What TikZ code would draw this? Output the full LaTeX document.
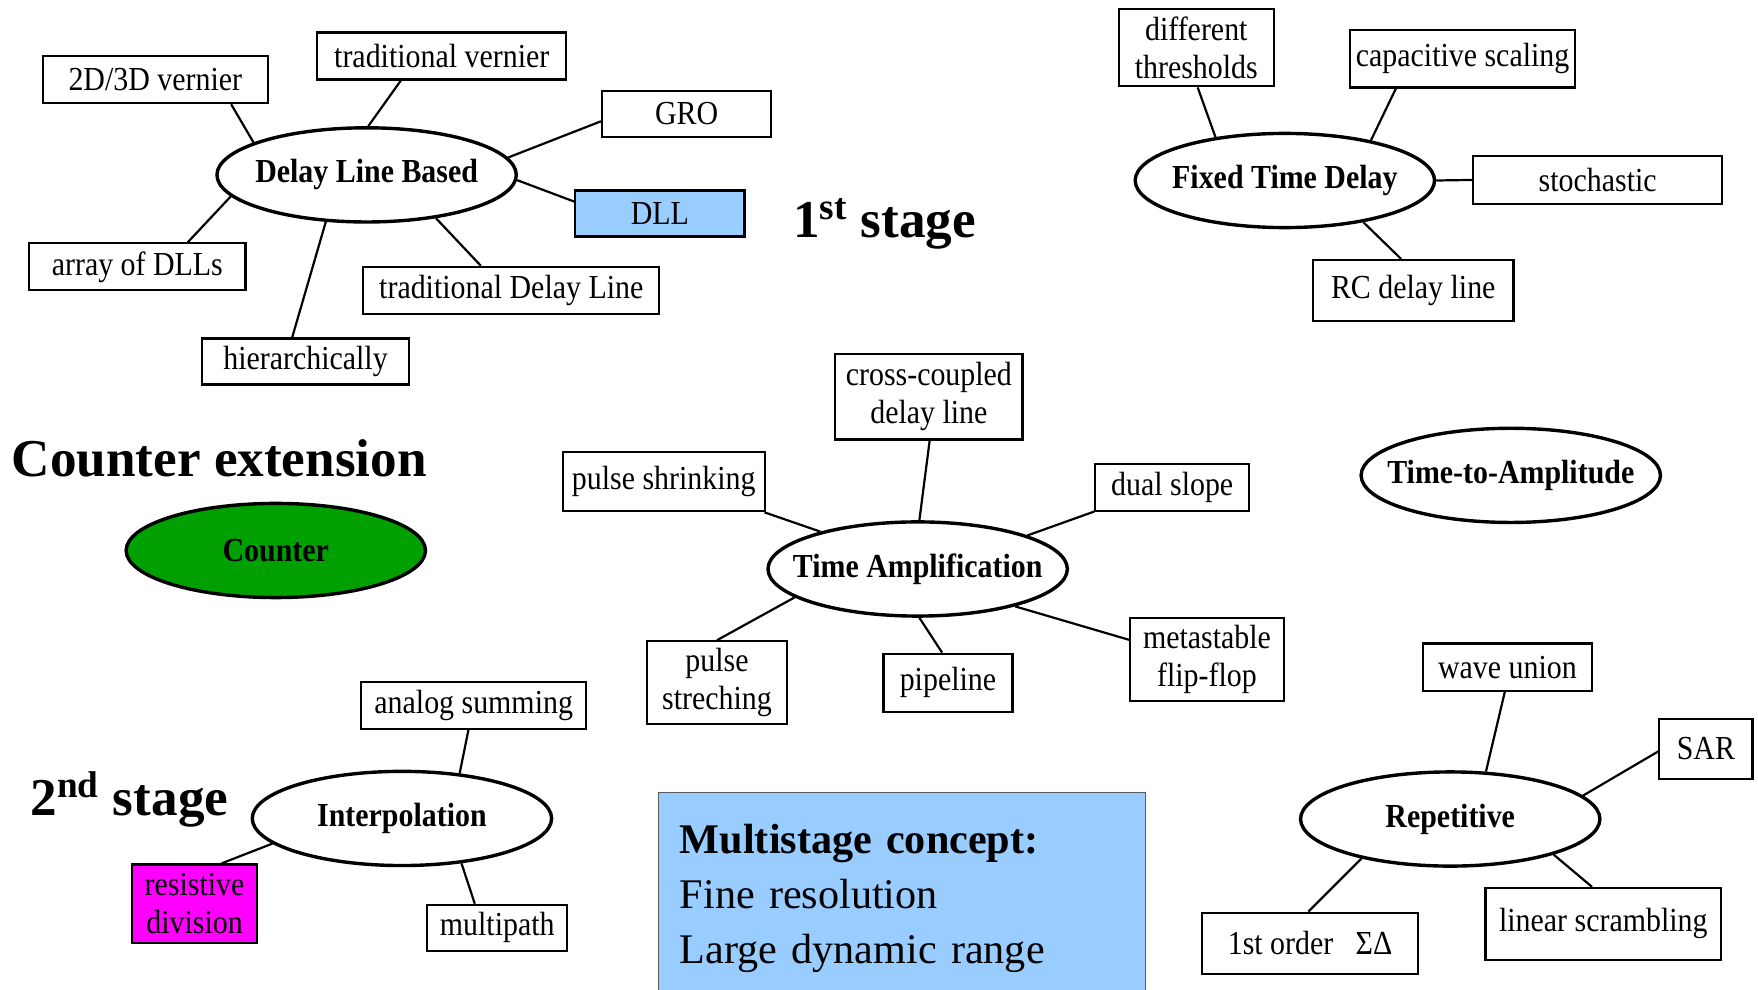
\documentclass[tikz,border=0pt]{standalone}
\usepackage{fontspec}
\setmainfont{Liberation Serif}
\newfontfamily\narrowfont{Liberation Serif}[FakeStretch=0.89]
\usetikzlibrary{shapes.geometric}
\definecolor{lightblue}{RGB}{153,204,255}
\definecolor{countergreen}{RGB}{0,160,0}
\definecolor{purplepink}{RGB}{255,0,255}
\newcommand\px{0.5606pt}
\newcommand\ctext[1]{\makebox[0pt]{#1}}

\begin{document}
\begin{tikzpicture}[x=\px, y=-\px,
    hub/.style={draw, ellipse, line width=1.7pt, inner sep=0pt,
        minimum width=267*\px, minimum height=84*\px,
        font=\narrowfont\fontsize{16.8}{19}\selectfont\bfseries},
    leaf/.style 2 args={draw, rectangle, line width=1.1pt, inner sep=0pt, align=center,
        minimum width=#1*\px, minimum height=#2*\px,
        font=\narrowfont\fontsize{16.8}{19}\selectfont},
    link/.style={line width=1.1pt},
    title/.style={anchor=base west, inner sep=0pt, font=\fontsize{26.6}{30}\selectfont\bfseries}]
    \useasboundingbox (0,0) rectangle (1568,883);

    % Nodes
    \node [hub] (dlb) at (327,156) {\ctext{Delay Line Based}};
    \node [hub] (ftd) at (1146,161) {\ctext{Fixed Time Delay}};
    \node [hub, fill=countergreen] (counter) at (246,491) {\ctext{Counter}};
    \node [hub] (tamp) at (818.5,507.5) {\ctext{Time Amplification}};
    \node [hub] (tta) at (1347.5,424) {\ctext{Time-to-Amplitude}};
    \node [hub] (interp) at (358.5,730) {\ctext{Interpolation}};
    \node [hub] (rep) at (1293.5,730.5) {\ctext{Repetitive}};

    \node [leaf={201}{42}] (vernier2d) at (138.5,71) {2D/3D vernier};
    \node [leaf={222}{42}] (tradvernier) at (394,50) {traditional vernier};
    \node [leaf={151}{41}] (gro) at (612.5,101.5) {GRO};
    \node [leaf={151}{41}, fill=lightblue] (dll) at (588.5,190.5) {DLL};
    \node [leaf={193}{42}] (arraydll) at (122.5,238) {array of DLLs};
    \node [leaf={264}{42}] (tradline) at (456,259) {traditional Delay Line};
    \node [leaf={185}{41}] (hier) at (272.5,322.5) {hierarchically};

    \node [leaf={138}{69}] (thresh) at (1067,42.5) {different\\thresholds};
    \node [leaf={201}{51}] (capscal) at (1304.5,52.5) {capacitive scaling};
    \node [leaf={222}{43}] (stoch) at (1425,160.5) {stochastic};
    \node [leaf={179}{54}] (rcline) at (1260.5,259) {RC delay line};

    \node [leaf={167}{76}] (crosscoupled) at (828.5,354) {cross-coupled\\delay line};
    \node [leaf={180}{53}] (shrink) at (592,429.5) {pulse shrinking};
    \node [leaf={137}{42}] (dualslope) at (1045.5,435) {dual slope};
    \node [leaf={125}{74}] (stretch) at (639.5,609) {pulse\\streching};
    \node [leaf={115}{52}] (pipeline) at (845.5,609) {pipeline};
    \node [leaf={137}{74}] (metaflop) at (1076.5,588) {metastable\\flip-flop};

    \node [leaf={201}{42}] (analogsum) at (422.5,629) {analog summing};
    \node [leaf={111}{70}, fill=purplepink] (resdiv) at (173.5,806) {resistive\\division};
    \node [leaf={125}{41}] (multipath) at (443.5,827.5) {multipath};

    \node [leaf={151}{42}] (waveunion) at (1344.5,595) {wave union};
    \node [leaf={83}{54}] (sar) at (1521.5,668) {SAR};
    \node [leaf={210}{64}] (linscramble) at (1430,824) {linear scrambling};
    \node [leaf={193}{55}] (sigmadelta) at (1168.5,841.5) {1st order~~~ΣΔ};

    \node [title] (firststage) at (707,212) {1\textsuperscript{st} stage};
    \node [title] (counterext) at (10,425) {Counter extension};
    \node [title] (secondstage) at (27,727) {2\textsuperscript{nd} stage};

    \node [anchor=north west, fill=lightblue, draw=gray!70!black, line width=0.5pt,
        inner xsep=19*\px, inner ysep=29*\px, align=left, text width=396*\px,
        font=\fontsize{21.1}{27.5}\selectfont] (concept) at (587,706)
        {\textbf{Multistage concept:}\\Fine resolution\\Large dynamic range};

    % Connections
    \draw [link] (vernier2d.-18.3) -- (dlb.164.5);
    \draw [link] (tradvernier.-149.7) -- (dlb.88.6);
    \draw [link] (gro.-175.1) -- (dlb.7.8);
    \draw [link] (dll.172.8) -- (dlb.-2.6);
    \draw [link] (arraydll.26.8) -- (dlb.-171.6);
    \draw [link] (tradline.141.1) -- (dlb.-32.4);
    \draw [link] (hier.119.3) -- (dlb.-131.4);

    \draw [link] (thresh.-88.3) -- (ftd.148.6);
    \draw [link] (capscal.-156.1) -- (ftd.25.9);
    \draw [link] (stoch.west) -- (ftd.east);
    \draw [link] (rcline.111.3) -- (ftd.-28.5);

    \draw [link] (crosscoupled.-89) -- (tamp.88);
    \draw [link] (shrink.-17) -- (tamp.159.2);
    \draw [link] (dualslope.-163) -- (tamp.17.7);
    \draw [link] (stretch.90) -- (tamp.-167.6);
    \draw [link] (pipeline.101.9) -- (tamp.-88);
    \draw [link] (metaflop.166.1) -- (tamp.-21.7);

    \draw [link] (analogsum.-102.1) -- (interp.38.9);
    \draw [link] (resdiv.56.1) -- (interp.-169.7);
    \draw [link] (multipath.133.6) -- (interp.-37.8);

    \draw [link] (waveunion.-96.8) -- (rep.53.9);
    \draw [link] (sar.-177.2) -- (rep.10);
    \draw [link] (linscramble.107.4) -- (rep.-19.8);
    \draw [link] (sigmadelta.93.1) -- (rep.-156.3);
\end{tikzpicture}
\end{document}
